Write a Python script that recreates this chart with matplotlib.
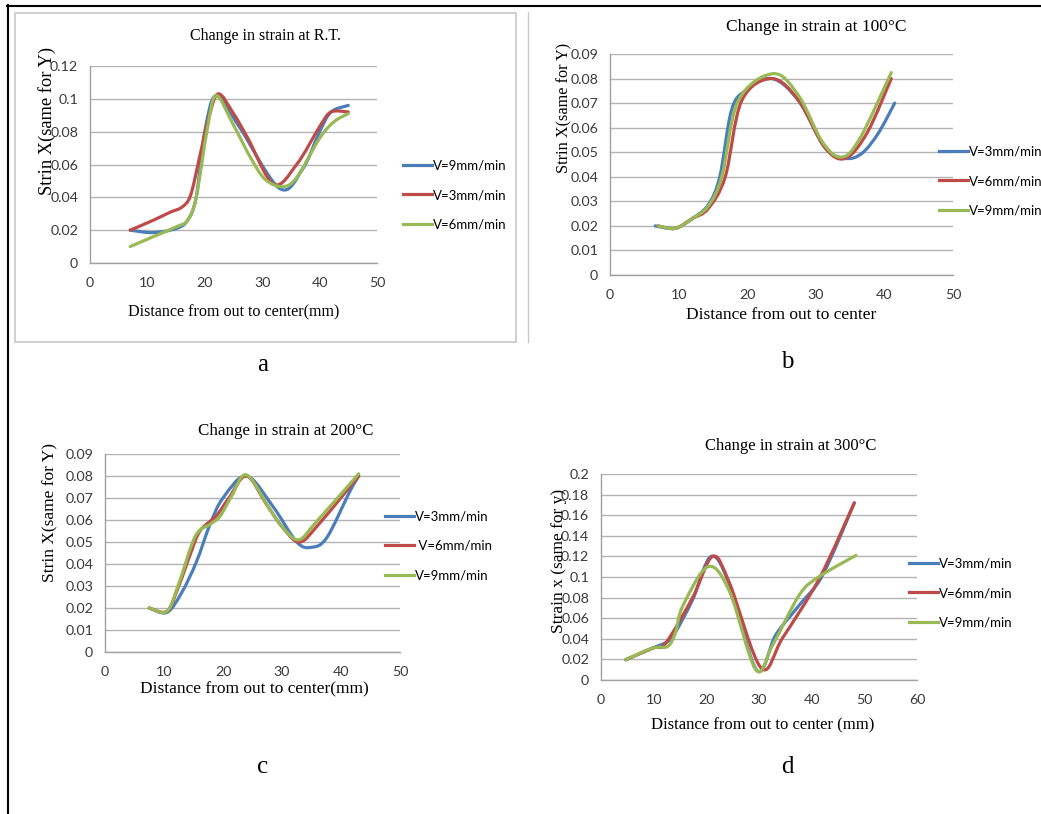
import numpy as np
import matplotlib
matplotlib.use("Agg")
import matplotlib.pyplot as plt
from matplotlib.path import Path
from matplotlib.patches import PathPatch, Rectangle
from matplotlib.lines import Line2D

# ---- data: strain vs distance for each temperature ----
# R.T.
a_x_9 = [7, 11, 15, 17, 18.5, 20, 22, 26, 33, 37, 40, 42, 45]
a_y_9 = [0.020, 0.0185, 0.021, 0.026, 0.040, 0.080, 0.102, 0.083, 0.0455, 0.057, 0.080, 0.092, 0.096]
a_x_3 = [7, 11, 14, 16, 17.5, 19, 20.5, 22.3, 25, 27.5, 32, 36, 40, 42, 45]
a_y_3 = [0.020, 0.026, 0.031, 0.034, 0.041, 0.063, 0.086, 0.103, 0.091, 0.076, 0.048, 0.060, 0.083, 0.092, 0.092]
a_x_6 = [7, 11, 15, 17, 18.5, 20.5, 22, 25, 28, 30.5, 33.5, 36, 40, 42.5, 45]
a_y_6 = [0.010, 0.016, 0.022, 0.026, 0.040, 0.083, 0.102, 0.084, 0.064, 0.051, 0.0465, 0.052, 0.076, 0.086, 0.091]

# 100 C
b_x_3 = [6.6, 9.5, 12, 14.3, 16, 17.7, 19.7, 23.6, 27.5, 31.3, 34.3, 36.7, 39.1, 41.5]
b_y_3 = [0.020, 0.019, 0.023, 0.0285, 0.040, 0.067, 0.075, 0.080, 0.071, 0.052, 0.0475, 0.0495, 0.0577, 0.070]
b_x_6 = [7, 9.5, 12, 14.3, 16.8, 19.2, 23.6, 27.5, 31.3, 34.3, 37.5, 41]
b_y_6 = [0.020, 0.019, 0.023, 0.027, 0.040, 0.071, 0.080, 0.071, 0.052, 0.0475, 0.058, 0.080]
b_x_9 = [7, 9.5, 12, 14.3, 16.3, 18.7, 23.8, 27.5, 31, 33.8, 36.5, 41]
b_y_9 = [0.020, 0.019, 0.023, 0.028, 0.040, 0.071, 0.082, 0.073, 0.054, 0.048, 0.056, 0.0824]

# 200 C
c_x_3 = [7.5, 10.5, 13, 15.5, 17.8, 20, 24, 28.5, 32.5, 35, 37.6, 41.5, 43]
c_y_3 = [0.020, 0.018, 0.027, 0.041, 0.058, 0.070, 0.080, 0.066, 0.050, 0.0476, 0.052, 0.073, 0.080]
c_x_6 = [7.5, 10.5, 12.5, 14.4, 16.1, 18.9, 21, 24, 27.4, 30, 33, 36.4, 43]
c_y_6 = [0.020, 0.0185, 0.030, 0.044, 0.055, 0.062, 0.070, 0.080, 0.067, 0.057, 0.050, 0.0586, 0.080]
c_x_9 = [7.5, 10.5, 12.5, 15.3, 17.8, 19.5, 21.5, 24, 28, 30, 32.8, 35.9, 43]
c_y_9 = [0.020, 0.0185, 0.031, 0.0526, 0.058, 0.0617, 0.071, 0.0805, 0.0647, 0.057, 0.051, 0.0594, 0.081]

# 300 C
d_x_3 = [4.7, 9.8, 12.7, 14.2, 17.4, 20.9, 24.4, 29.6, 33.2, 37.7, 42.1, 48.1]
d_y_3 = [0.0197, 0.031, 0.0375, 0.047, 0.078, 0.120, 0.0926, 0.0094, 0.044, 0.073, 0.102, 0.172]
d_x_6 = [4.7, 9.8, 12.3, 17.4, 21.2, 24.4, 30.4, 34.5, 41.5, 48.1]
d_y_6 = [0.0197, 0.031, 0.036, 0.080, 0.120, 0.094, 0.0117, 0.041, 0.099, 0.172]
d_x_9 = [4.7, 9.8, 12.7, 14.2, 15.5, 20.3, 24.4, 29.4, 32.6, 37.7, 41.5, 48.4]
d_y_9 = [0.0197, 0.031, 0.0327, 0.047, 0.0715, 0.110, 0.086, 0.010, 0.034, 0.083, 0.1006, 0.121]

BLUE = "#4a7ebb"
RED = "#be4b48"
GREEN = "#98b954"

W, H = 1041, 814
SERIF = "Liberation Serif"
SANS = "Lato"

fig = plt.figure(figsize=(W / 100, H / 100), dpi=100)
fig.patch.set_facecolor("white")


def fx(x):
    return x / W


def fy(y):
    return 1 - y / H


def smooth_path(xs, ys):
    # Catmull-Rom style bezier through the points (like a spreadsheet "smoothed line")
    p = np.column_stack([xs, ys]).astype(float)
    n = len(p)
    verts = [p[0]]
    codes = [Path.MOVETO]
    for i in range(n - 1):
        p0 = p[i - 1] if i > 0 else p[i]
        p3 = p[i + 2] if i + 2 < n else p[i + 1]
        c1 = p[i] + (p[i + 1] - p0) / 6.0
        c2 = p[i + 1] - (p3 - p[i]) / 6.0
        verts += [c1, c2, p[i + 1]]
        codes += [Path.CURVE4] * 3
    return Path(verts, codes)


def panel(box, xmax, xstep, ymax, ystep, series, title, title_xy, title_fs,
          ylabel, ylabel_xy, ylabel_fs, xlabel, xlabel_xy, xlabel_fs,
          leg_xy, letter, letter_xy):
    x0, y0, x1, y1 = box
    ax = fig.add_axes([fx(x0), fy(y1), (x1 - x0) / W, (y1 - y0) / H])
    handles = []
    for xs, ys, col, lab in series:
        ax.add_patch(PathPatch(smooth_path(xs, ys), fill=False, edgecolor=col,
                               lw=2.3, capstyle="round", joinstyle="round", zorder=3))
        handles.append(Line2D([], [], color=col, lw=2.3, label=lab))
    ax.set_xlim(0, xmax)
    ax.set_ylim(0, ymax)
    xt = np.arange(0, xmax + xstep / 2, xstep)
    yt = np.round(np.arange(0, ymax + ystep / 2, ystep), 4)
    ax.set_xticks(xt)
    ax.set_yticks(yt)
    ax.set_xticklabels([f"{v:g}" for v in xt])
    ax.set_yticklabels([f"{v:g}" for v in yt])
    for lbl in ax.get_xticklabels() + ax.get_yticklabels():
        lbl.set_fontfamily(SANS)
        lbl.set_fontsize(10.3)
        lbl.set_color("#3a3a3a")
    ax.tick_params(length=0)
    ax.tick_params(axis="y", pad=8.5)
    ax.tick_params(axis="x", pad=10)
    ax.grid(axis="y", color="#b3b3b3", lw=1.0)
    ax.set_axisbelow(True)
    for s in ("top", "right"):
        ax.spines[s].set_visible(False)
    for s in ("left", "bottom"):
        ax.spines[s].set_color("#a0a0a0")
        ax.spines[s].set_linewidth(1.0)

    fig.text(fx(title_xy[0]), fy(title_xy[1]), title, ha="center", va="center",
             family=SERIF, fontsize=title_fs)
    fig.text(fx(ylabel_xy[0]), fy(ylabel_xy[1]), ylabel, ha="center", va="center",
             rotation=90, family=SERIF, fontsize=ylabel_fs)
    fig.text(fx(xlabel_xy[0]), fy(xlabel_xy[1]), xlabel, ha="center", va="center",
             family=SERIF, fontsize=xlabel_fs)
    fig.text(fx(letter_xy[0]), fy(letter_xy[1]), letter, ha="center", va="center",
             family=SERIF, fontsize=18)
    ax.legend(handles=handles, loc="center left", bbox_to_anchor=(fx(leg_xy[0]), fy(leg_xy[1])),
              bbox_transform=fig.transFigure, frameon=False, borderpad=0, borderaxespad=0,
              handlelength=2.2, handletextpad=0.1, labelspacing=1.3,
              prop={"family": SANS, "size": 9.5})
    return ax


panel((90, 66, 377, 263), 50, 10, 0.12, 0.02,
      [(a_x_9, a_y_9, BLUE, "V=9mm/min"),
       (a_x_3, a_y_3, RED, "V=3mm/min"),
       (a_x_6, a_y_6, GREEN, "V=6mm/min")],
      "Change in strain at R.T.", (265, 36), 11.5,
      "Strin X(same for Y)", (47, 121), 13.3,
      "Distance from out to center(mm)", (234, 312), 11.6,
      (403, 195), "a", (263, 365))

panel((610, 54, 953, 275), 50, 10, 0.09, 0.01,
      [(b_x_3, b_y_3, BLUE, "V=3mm/min"),
       (b_x_6, b_y_6, RED, "V=6mm/min"),
       (b_x_9, b_y_9, GREEN, "V=9mm/min")],
      "Change in strain at 100\u00b0C", (816, 27), 12.5,
      "Strin X(same for Y)", (564, 108), 11.7,
      "Distance from out to center", (781, 315), 12.5,
      (939, 181), "b", (787, 362))

panel((105, 454, 400, 652), 50, 10, 0.09, 0.01,
      [(c_x_3, c_y_3, BLUE, "V=3mm/min"),
       (c_x_6, c_y_6, RED, " V=6mm/min"),
       (c_x_9, c_y_9, GREEN, "V=9mm/min")],
      "Change in strain at 200\u00b0C", (286, 431), 12.2,
      "Strin X(same for Y)", (50, 512), 12.5,
      "Distance from out to center(mm)", (254, 689), 12.5,
      (385, 546), "c", (263, 767))

panel((601, 474, 917, 680), 60, 10, 0.2, 0.02,
      [(d_x_3, d_y_3, BLUE, "V=3mm/min"),
       (d_x_6, d_y_6, RED, "V=6mm/min"),
       (d_x_9, d_y_9, GREEN, "V=9mm/min")],
      "Change in strain at 300\u00b0C", (791, 446), 12,
      "Strain x (same for y)", (559, 561), 12.5,
      "Distance from out to center (mm)", (763, 725), 12,
      (909, 593), "d", (787, 767))

# chart frame around the first panel and the table borders
fig.add_artist(Rectangle((fx(15), fy(342)), (516 - 15) / W, (342 - 13) / H,
                         transform=fig.transFigure, fill=False, edgecolor="#c8c8c8", lw=1.2))
fig.add_artist(Line2D([fx(528), fx(528)], [fy(12), fy(342)], transform=fig.transFigure,
                      color="#c8c8c8", lw=1.0))
fig.add_artist(Line2D([fx(7.5), fx(7.5)], [fy(5), fy(814)], transform=fig.transFigure,
                      color="black", lw=1.5))
fig.add_artist(Line2D([fx(7), fx(1041)], [fy(5.5), fy(5.5)], transform=fig.transFigure,
                      color="black", lw=1.5))

fig.savefig("out.png", dpi=100)
